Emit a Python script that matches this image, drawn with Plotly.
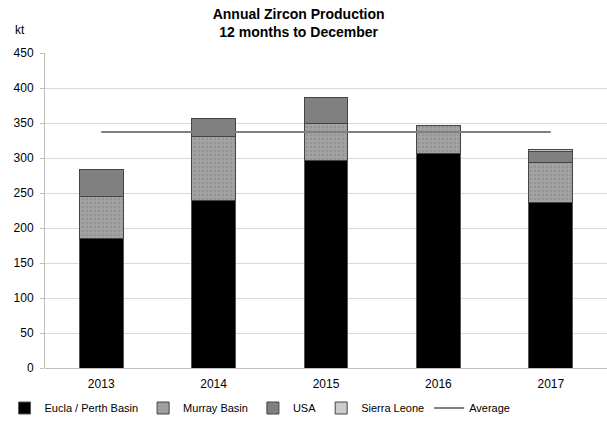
import plotly.graph_objects as go

years = ["2013", "2014", "2015", "2016", "2017"]
eucla = [185, 239, 297, 307, 237]
murray = [60, 92, 53, 39, 56]
usa = [39, 25, 37, 1, 16]
sierra = [0, 0, 0, 0, 3]
average = [337, 337, 337, 337, 337]

FONT = "Liberation Sans, Arial, sans-serif"
fig = go.Figure()

fig.add_bar(x=years, y=eucla, name="Eucla / Perth Basin",
            marker=dict(color="#000000", line=dict(color="#555555", width=1)))
fig.add_bar(x=years, y=murray, name="Murray Basin",
            marker=dict(color="#a0a0a0", line=dict(color="#444444", width=1),
                        pattern=dict(shape=".", fgcolor="#858585", bgcolor="#a3a3a3", size=4, solidity=0.35)))
fig.add_bar(x=years, y=usa, name="USA",
            marker=dict(color="#808080", line=dict(color="#444444", width=1)))
fig.add_bar(x=years, y=sierra, name="Sierra Leone",
            marker=dict(color="#c8c8c8", line=dict(color="#444444", width=1),
                        pattern=dict(shape=".", fgcolor="#b0b0b0", bgcolor="#cfcfcf", size=4, solidity=0.3)))
fig.add_scatter(x=years, y=average, name="Average", mode="lines",
                line=dict(color="#808080", width=2))

fig.update_layout(
    barmode="stack",
    bargap=0.61,
    width=607, height=424,
    margin=dict(l=45, r=0, t=53, b=56, autoexpand=False),
    paper_bgcolor="white", plot_bgcolor="white",
    font=dict(family=FONT, size=12, color="#000000"),
    title=dict(text="<b>Annual Zircon Production<br>12 months to December</b>",
               x=0.492, xref="container", xanchor="center",
               y=0.955, yref="container", yanchor="top",
               font=dict(family=FONT, size=14, color="#000000")),
    legend=dict(orientation="h", x=-0.072, xanchor="left", y=-0.127, yanchor="middle",
                font=dict(family=FONT, size=11), traceorder="normal",
                itemwidth=30),
    showlegend=True,
)
fig.update_xaxes(type="category", range=[-0.5, 4.5], showgrid=False, showline=False,
                 ticks="", tickfont=dict(size=12), ticklabelstandoff=7)
fig.update_yaxes(range=[0, 450], dtick=50, showgrid=True, gridcolor="#d9d9d9", gridwidth=1,
                 showline=True, linecolor="#bfbfbf", linewidth=1, ticks="outside",
                 ticklen=4, tickcolor="#bfbfbf", zeroline=True, zerolinecolor="#bfbfbf",
                 zerolinewidth=1, tickfont=dict(size=12), ticklabelstandoff=4)
fig.add_annotation(text="kt", xref="paper", yref="paper", x=-0.0445, y=1.073,
                   xanchor="center", yanchor="middle", showarrow=False,
                   font=dict(family=FONT, size=12))

fig.write_html("out.html", config={"displayModeBar": False},
               post_script="document.body.style.margin='0';document.body.style.padding='0';")
